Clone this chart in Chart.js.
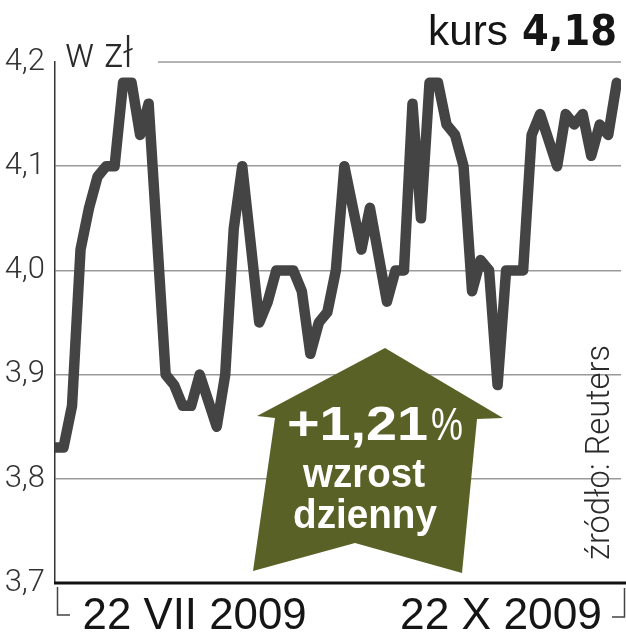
<!DOCTYPE html>
<html>
<head>
<meta charset="utf-8">
<script src="https://cdn.jsdelivr.net/npm/chart.js@4"></script>
<style>
  html, body { margin: 0; padding: 0; background: #fff; }
  #wrap { width: 626px; height: 640px; position: relative; }
</style>
</head>
<body>
<div id="wrap"><canvas id="chart"></canvas></div>
<script>
// notowania (indeks sesji -> kurs w zł)
const sessionIdx = [0, 1, 2, 3, 4, 5, 6, 7, 8, 9, 10, 11, 13, 14, 15, 16, 17, 19, 20, 21, 22,
    24, 25, 26, 28, 29, 30, 31, 32, 33, 34, 36, 37, 39, 40, 41, 42, 43, 44, 45, 46, 47, 48,
    49, 50, 51, 52, 53, 55, 56, 57, 59, 60, 61, 62, 63, 64, 65, 66];
const rate = [3.83, 3.83, 3.87, 4.02, 4.06, 4.09, 4.10, 4.10, 4.18, 4.18, 4.13, 4.16, 3.90, 3.89, 3.87, 3.87, 3.90, 3.85, 3.90, 4.04, 4.10,
    3.95, 3.97, 4.00, 4.00, 3.98, 3.92, 3.95, 3.96, 4.00, 4.10, 4.02, 4.06, 3.97, 4.00, 4.00, 4.16, 4.05, 4.18, 4.18, 4.14, 4.13, 4.10,
    3.98, 4.01, 4.00, 3.89, 4.00, 4.00, 4.13, 4.15, 4.10, 4.15, 4.14, 4.15, 4.11, 4.14, 4.13, 4.18];

const xTickLabels = ['22 VII 2009', '22 X 2009'];
const xTickAt = [16.4, 52.4];
const yTicks = [3.7, 3.8, 3.9, 4.0, 4.1, 4.2];

const LINE = '#444444';
const GRID = '#9a9a9a';
const OLIVE = '#5a6126';

// tekst dopasowany do szerokosci
function fitText(ctx, txt, x, y, font, w, align) {
    ctx.save();
    ctx.font = font;
    const m = ctx.measureText(txt).width;
    ctx.translate(x, y);
    ctx.scale(w / m, 1);
    ctx.textAlign = align;
    ctx.textBaseline = 'alphabetic';
    ctx.fillText(txt, 0, 0);
    ctx.restore();
}

const decor = {
    id: 'decor',
    beforeDatasetsDraw(chart) {
        const ctx = chart.ctx;
        const y = chart.scales.y;
        const a = chart.chartArea;
        // gorna linia siatki przerwana przez "w zł"
        ctx.save();
        ctx.strokeStyle = GRID;
        ctx.lineWidth = 1.5;
        ctx.beginPath();
        const y42 = y.getPixelForValue(4.2);
        ctx.moveTo(158, y42);
        ctx.lineTo(a.right, y42);
        ctx.stroke();

        // strzalka
        ctx.fillStyle = OLIVE;
        ctx.beginPath();
        ctx.moveTo(385, 348);
        ctx.lineTo(503, 418);
        ctx.lineTo(477, 419);
        ctx.lineTo(462, 573);
        ctx.lineTo(355, 543);
        ctx.lineTo(253, 571);
        ctx.lineTo(275, 418);
        ctx.lineTo(257, 416);
        ctx.closePath();
        ctx.fill();

        ctx.fillStyle = '#ffffff';
        fitText(ctx, '+1,21', 287, 440, 'bold 48px "Liberation Sans"', 141, 'left');
        fitText(ctx, '%', 431, 440, '46px "Liberation Sans"', 32, 'left');
        fitText(ctx, 'wzrost', 364, 487, 'bold 40px "Liberation Sans"', 122, 'center');
        fitText(ctx, 'dzienny', 365, 528, 'bold 40px "Liberation Sans"', 144, 'center');
        ctx.restore();
    },
    afterDraw(chart) {
        const ctx = chart.ctx;
        const a = chart.chartArea;
        const x = chart.scales.x;
        ctx.save();
        // os pozioma
        ctx.strokeStyle = '#111';
        ctx.lineWidth = 3;
        ctx.beginPath();
        ctx.moveTo(a.left - 1, a.bottom);
        ctx.lineTo(626, a.bottom);
        ctx.stroke();

        // nawiasy zakresu dat
        ctx.strokeStyle = '#444';
        ctx.lineWidth = 1.5;
        ctx.beginPath();
        ctx.moveTo(57.5, a.bottom + 4);
        ctx.lineTo(57.5, 615);
        ctx.lineTo(70, 615);
        ctx.moveTo(612, 617);
        ctx.lineTo(624.5, 617);
        ctx.lineTo(624.5, a.bottom + 5);
        ctx.stroke();

        // etykiety dat
        ctx.fillStyle = '#151515';
        fitText(ctx, xTickLabels[0], x.getPixelForValue(xTickAt[0]), 629, '44px "Liberation Sans"', 224, 'center');
        fitText(ctx, xTickLabels[1], x.getPixelForValue(xTickAt[1]), 629, '44px "Liberation Sans"', 202, 'center');

        // tytul
        fitText(ctx, 'kurs', 428, 45, '42px "Liberation Sans"', 80, 'left');
        fitText(ctx, '4,18', 617, 45, 'bold 42px "DejaVu Sans"', 95, 'right');

        // jednostka
        ctx.fillStyle = '#2a2a2a';
        fitText(ctx, 'w zł', 65, 67, '300 42px Roboto', 68, 'left');

        // zrodlo
        ctx.save();
        ctx.translate(609, 560);
        ctx.rotate(-Math.PI / 2);
        fitText(ctx, 'źródło: Reuters', 0, 0, '300 33px Roboto', 215, 'left');
        ctx.restore();
        ctx.restore();
    }
};

new Chart(document.getElementById('chart'), {
    type: 'line',
    data: {
        datasets: [{
            data: sessionIdx.map((v, i) => ({ x: v, y: rate[i] })),
            borderColor: LINE,
            borderWidth: 10.5,
            borderJoinStyle: 'round',
            borderCapStyle: 'round',
            pointRadius: 0,
            tension: 0,
            fill: false
        }]
    },
    options: {
        responsive: true,
        maintainAspectRatio: false,
        animation: false,
        layout: { padding: { top: 62, right: 5, bottom: 57, left: 0 } },
        plugins: { legend: { display: false }, tooltip: { enabled: false } },
        scales: {
            x: {
                type: 'linear',
                min: 0,
                max: 66.5,
                display: false
            },
            y: {
                min: 3.7,
                max: 4.2,
                afterBuildTicks: axis => { axis.ticks = yTicks.map(v => ({ value: v })); },
                afterFit: axis => { axis.width = 55; },
                ticks: {
                    padding: 10,
                    color: '#333',
                    font: { family: 'Roboto', weight: '300', size: 31 },
                    callback: v => v.toFixed(1).replace('.', ',')
                },
                grid: {
                    drawTicks: false,
                    lineWidth: 1.5,
                    color: c => (c.tick && Math.abs(c.tick.value - 4.2) < 1e-6) ? 'rgba(0,0,0,0)' : GRID
                },
                border: { display: true, color: '#333', width: 1.5 }
            }
        }
    },
    plugins: [decor]
});
</script>
</body>
</html>
